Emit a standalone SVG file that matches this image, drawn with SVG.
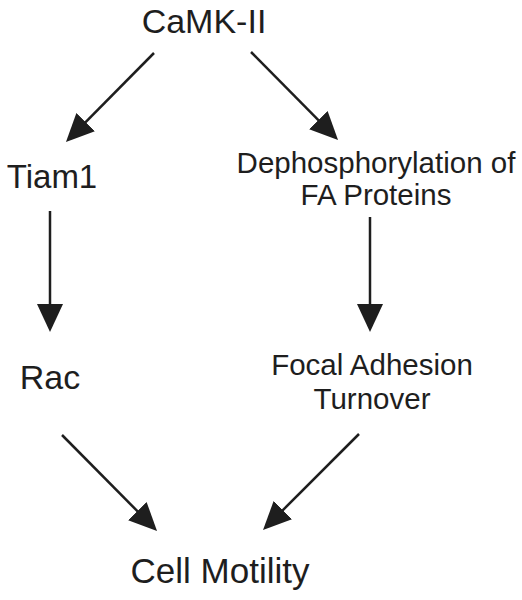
<svg xmlns="http://www.w3.org/2000/svg" width="522" height="600" viewBox="0 0 522 600">
<style>
text{font-family:"Liberation Sans",Arial,sans-serif;fill:#1e1e1e;text-anchor:middle}
.big{font-size:34px}
.mid{font-size:29.5px}
.c{stroke:#1e1e1e;stroke-width:2.5;fill:none;marker-end:url(#ah)}
</style>
<defs>
<marker id="ah" markerUnits="userSpaceOnUse" markerWidth="28" markerHeight="26" refX="18" refY="13" orient="auto" viewBox="0 0 28 26">
<path d="M0,0 L28,13 L0,26 z" fill="#1e1e1e"/>
</marker>
</defs>
<g id="camk"><text class="big" x="204" y="33">CaMK-II</text></g>
<g id="tiam1"><text class="big" x="52" y="188" style="font-size:33px">Tiam1</text></g>
<g id="dephos"><text class="mid" x="376" y="173">Dephosphorylation of</text><text class="mid" x="376" y="205">FA Proteins</text></g>
<g id="rac"><text class="big" x="50" y="389">Rac</text></g>
<g id="fa"><text class="mid" x="372" y="375">Focal Adhesion</text><text class="mid" x="372" y="409">Turnover</text></g>
<g id="motility"><text class="big" x="220" y="583" style="font-size:35px">Cell Motility</text></g>
<g id="connectors">
<line class="c" x1="154" y1="53" x2="73" y2="134.9"/>
<line class="c" x1="251" y1="52" x2="331" y2="132.9"/>
<line class="c" x1="50" y1="211" x2="50" y2="322"/>
<line class="c" x1="370" y1="217" x2="370" y2="322"/>
<line class="c" x1="62" y1="435" x2="150" y2="523.9"/>
<line class="c" x1="359" y1="434" x2="270.1" y2="522.9"/>
</g>
</svg>
